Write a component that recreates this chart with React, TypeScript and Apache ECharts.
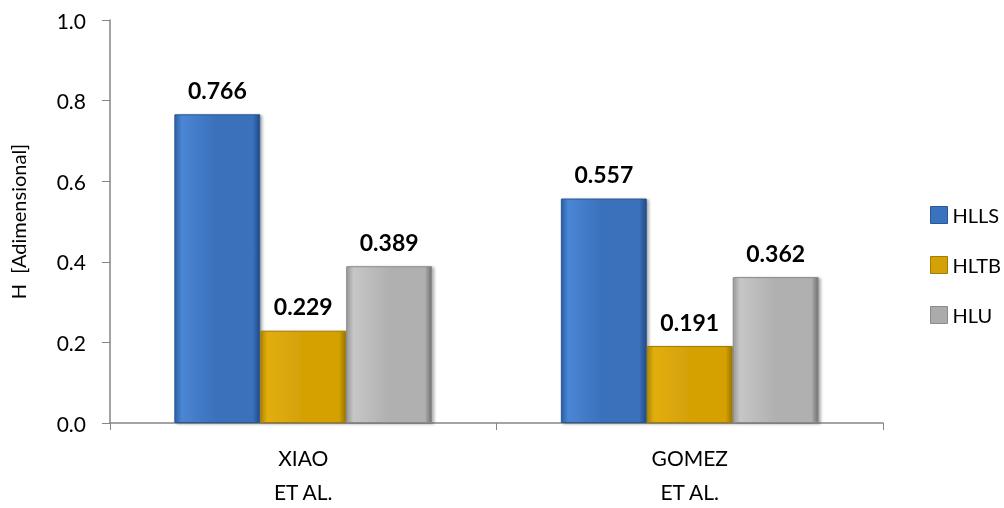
import React, { useEffect, useRef } from "react";
import * as echarts from "echarts";

const categories = ["XIAO\nET AL.", "GOMEZ\nET AL."];
const seriesNames = ["HLLS", "HLTB", "HLU"];
const hlls = [0.766, 0.557];
const hltb = [0.229, 0.191];
const hlu = [0.389, 0.362];
const yTicks = [0, 0.2, 0.4, 0.6, 0.8, 1.0];

const FONT = "Lato, 'Open Sans', sans-serif";

function grad(edge: string, light: string, mid: string, dark: string) {
  return new echarts.graphic.LinearGradient(0, 0, 1, 0, [
    { offset: 0, color: edge },
    { offset: 0.08, color: light },
    { offset: 0.5, color: mid },
    { offset: 0.92, color: mid },
    { offset: 1, color: dark },
  ]);
}

export default function App() {
  const ref = useRef<HTMLDivElement>(null);
  useEffect(() => {
    const chart = echarts.init(ref.current!, null, { renderer: "svg" });
    const styles = [
      { c: grad("#2d5fa3", "#4a86d4", "#3a6fbb", "#234a82"), b: "#2a5794", legend: "#3a72c0" },
      { c: grad("#b08600", "#e2ae10", "#d4a106", "#9a7600"), b: "#a07c00", legend: "#d4a106" },
      { c: grad("#9a9a9a", "#c6c6c6", "#b0b0b0", "#707070"), b: "#8a8a8a", legend: "#ababab" },
    ];
    const data = [hlls, hltb, hlu];
    chart.setOption({
      animation: false,
      textStyle: { fontFamily: FONT },
      grid: { left: 102, right: 121, top: 20, bottom: 77 },
      legend: {
        orient: "vertical",
        left: 925,
        top: 200,
        itemGap: 30,
        itemWidth: 17,
        itemHeight: 17,
        icon: "rect",
        textStyle: { fontSize: 20, color: "#000", fontFamily: FONT, padding: [0, 0, 0, 0] },
        data: seriesNames.map((n, i) => ({ name: n, itemStyle: { color: styles[i].legend, borderColor: styles[i].b, borderWidth: 1 } })),
      },
      xAxis: {
        type: "category",
        data: categories,
        axisLine: { lineStyle: { color: "#868686", width: 1.5 } },
        axisTick: { show: true, length: 7, lineStyle: { color: "#868686" } },
        axisLabel: { color: "#000", fontSize: 21, lineHeight: 34, margin: 17, fontFamily: FONT },
      },
      yAxis: {
        type: "value",
        min: 0,
        max: 1,
        interval: 0.2,
        name: "H  [Adimensional]",
        nameLocation: "middle",
        nameGap: 82,
        nameRotate: 90,
        nameTextStyle: { color: "#000", fontSize: 20, fontFamily: FONT },
        axisLine: { show: true, lineStyle: { color: "#868686", width: 1.5 } },
        axisTick: { show: true, inside: false, length: 8, lineStyle: { color: "#868686" } },
        splitLine: { show: false },
        axisLabel: {
          color: "#000",
          fontSize: 21,
          margin: 24,
          fontFamily: FONT,
          formatter: (v: number) => (yTicks.includes(Math.round(v * 10) / 10) ? v.toFixed(1) : ""),
        },
      },
      series: seriesNames.map((n, i) => ({
        name: n,
        type: "bar",
        data: data[i],
        barGap: "0%",
        barCategoryGap: "33.3%",
        itemStyle: {
          color: styles[i].c,
          borderColor: styles[i].b,
          borderWidth: 1,
          shadowColor: "rgba(0,0,0,0.35)",
          shadowBlur: 3,
          shadowOffsetX: 2,
          shadowOffsetY: 1,
        },
        label: {
          show: true,
          position: "top",
          distance: 13,
          color: "#000",
          fontSize: 23,
          fontWeight: "bold",
          fontFamily: FONT,
          formatter: (p: any) => p.value.toFixed(3),
        },
      })),
    });
    return () => chart.dispose();
  }, []);
  return <div ref={ref} style={{ position: "fixed", left: 0, top: 0, width: 1004, height: 508 }} />;
}
